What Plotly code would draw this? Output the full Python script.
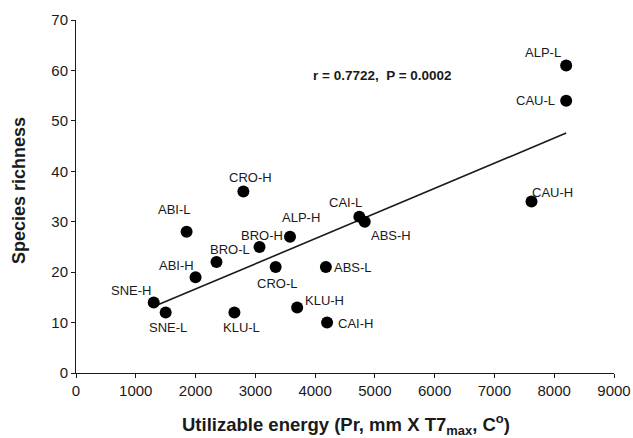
import numpy as np
import plotly.graph_objects as go

# Data
sites = ["SNE-H", "SNE-L", "KLU-L", "ABI-H", "BRO-L", "ABI-L", "CRO-H", "BRO-H", "CRO-L",
         "ALP-H", "KLU-H", "ABS-L", "CAI-H", "CAI-L", "ABS-H", "CAU-H", "ALP-L", "CAU-L"]
energy = [1300, 1500, 2650, 2000, 2350, 1850, 2800, 3070, 3340,
          3580, 3700, 4180, 4200, 4740, 4830, 7620, 8200, 8200]
richness = [14, 12, 12, 19, 22, 28, 36, 25, 21,
            27, 13, 21, 10, 31, 30, 34, 61, 54]
x_ticks = [0, 1000, 2000, 3000, 4000, 5000, 6000, 7000, 8000, 9000]
y_ticks = [0, 10, 20, 30, 40, 50, 60, 70]
stat_text = "r = 0.7722,\u00a0\u00a0P = 0.0002"
x_title = "Utilizable energy (Pr, mm X T7<sub>max</sub>, C<sup>o</sup>)"
y_title = "Species richness"

# label offsets in pixels (style)
label_offsets = {
    "ALP-L": (-23, 13), "CAU-L": (-31, 0), "CAU-H": (21, 9), "CAI-L": (-14, 14),
    "ABS-H": (26, -14), "ABS-L": (27, 0), "CAI-H": (28, -1), "KLU-H": (27, 7),
    "CRO-L": (1, -16), "ALP-H": (11, 19), "BRO-H": (2, 11), "BRO-L": (14, 13),
    "ABI-L": (-12, 22), "ABI-H": (-19, 12), "CRO-H": (7, 14), "SNE-H": (-23, 12),
    "SNE-L": (2, -15), "KLU-L": (7, -15),
}

FONT = "Liberation Sans, Arial, sans-serif"
INK = "#1a1a1a"

slope, intercept = np.polyfit(energy, richness, 1)
fit_x = [min(energy), max(energy)]
fit_y = [slope * v + intercept for v in fit_x]

fig = go.Figure()
fig.add_trace(go.Scatter(x=fit_x, y=fit_y, mode="lines",
                         line=dict(color=INK, width=1.6), showlegend=False, hoverinfo="skip"))
fig.add_trace(go.Scatter(x=energy, y=richness, mode="markers",
                         marker=dict(color="black", size=12), showlegend=False,
                         text=sites))

for s, xv, yv in zip(sites, energy, richness):
    dx, dy = label_offsets[s]
    fig.add_annotation(x=xv, y=yv, text=s, showarrow=False, xshift=dx, yshift=dy,
                       font=dict(family=FONT, size=13, color=INK))

fig.add_annotation(x=5134, y=58.9, text="<b>" + stat_text + "</b>", showarrow=False,
                   font=dict(family=FONT, size=13.5, color=INK))

# axis titles placed in paper coordinates
fig.add_annotation(xref="paper", yref="paper", x=0.502, y=-0.145, text="<b>" + x_title + "</b>",
                   showarrow=False, xanchor="center", yanchor="middle",
                   font=dict(family=FONT, size=18.5, color=INK))
fig.add_annotation(xref="paper", yref="paper", x=-0.106, y=0.518, text="<b>" + y_title + "</b>",
                   showarrow=False, xanchor="center", yanchor="middle", textangle=-90,
                   font=dict(family=FONT, size=18, color=INK))

fig.update_layout(
    width=633, height=438,
    margin=dict(l=76, r=19, t=20, b=65, pad=0, autoexpand=False),
    paper_bgcolor="white", plot_bgcolor="white",
    font=dict(family=FONT, color=INK),
    xaxis=dict(range=[0, 9000], tickvals=x_ticks, ticks="outside", ticklen=4,
               tickcolor=INK, showline=True, linecolor=INK, linewidth=1,
               showgrid=False, zeroline=False, tickfont=dict(size=15, color=INK),
               automargin=False),
    yaxis=dict(range=[0, 70], tickvals=y_ticks, ticks="outside", ticklen=4,
               tickcolor=INK, showline=True, linecolor=INK, linewidth=1,
               showgrid=False, zeroline=False, tickfont=dict(size=15, color=INK),
               automargin=False),
)

fig.write_html("out.html", config={"displayModeBar": False},
               post_script="document.body.style.margin='0';document.body.style.overflow='hidden';")
